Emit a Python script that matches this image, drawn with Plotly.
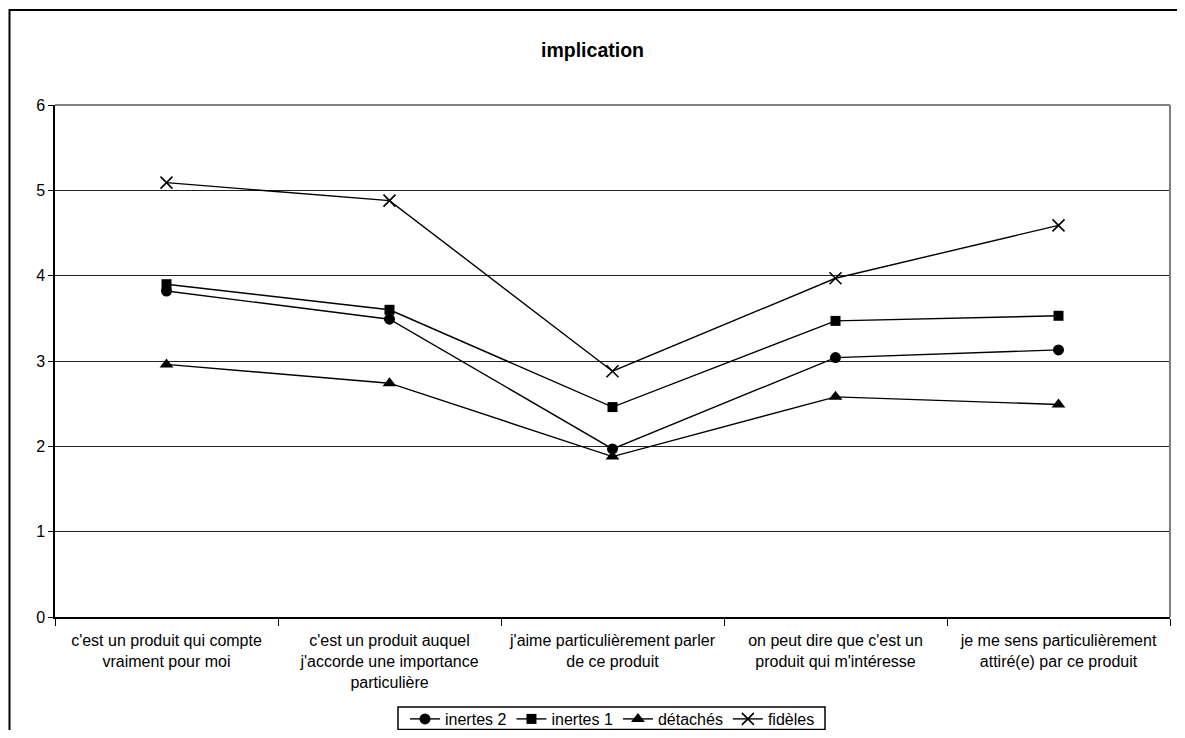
import plotly.graph_objects as go

categories = [
    "c'est un produit qui compte<br>vraiment pour moi",
    "c'est un produit auquel<br>j'accorde une importance<br>particulière",
    "j'aime particulièrement parler<br>de ce produit",
    "on peut dire que c'est un<br>produit qui m'intéresse",
    "je me sens particulièrement<br>attiré(e) par ce produit",
]
inertes2 = [3.82, 3.49, 1.97, 3.04, 3.13]
inertes1 = [3.90, 3.60, 2.46, 3.47, 3.53]
detaches = [2.96, 2.74, 1.88, 2.58, 2.49]
fideles = [5.09, 4.88, 2.88, 3.97, 4.59]
y_ticks = [0, 1, 2, 3, 4, 5, 6]

series = [
    ("inertes 2", inertes2, "circle", 11),
    ("inertes 1", inertes1, "square", 10),
    ("détachés", detaches, "triangle-up", 12),
    ("fidèles", fideles, "x-thin-open", 12),
]

fig = go.Figure()
for name, vals, sym, sz in series:
    marker = dict(symbol=sym, size=sz, color="black", line=dict(width=0))
    if sym == "x-thin-open":
        marker = dict(symbol=sym, size=sz, color="black", line=dict(width=1.6, color="black"))
    fig.add_trace(go.Scatter(
        x=categories, y=vals, name=name, mode="lines+markers",
        line=dict(color="black", width=1.4), marker=marker,
    ))

# page has an 8px body margin; figure sized so page == window
W, H = 1169, 722
L, R, T, B = 47, 7, 97, 113
pw, ph = W - L - R, H - T - B

def px(x):
    return (x - L) / pw

def py(y):
    return (H - B - y) / ph

fig.update_layout(
    width=W, height=H,
    margin=dict(l=L, r=R, t=T, b=B, autoexpand=False),
    paper_bgcolor="white", plot_bgcolor="white",
    font=dict(family="Liberation Sans, Arial, sans-serif", size=16, color="black"),
    title=dict(text="<b>implication</b>", x=0.5, xanchor="center", y=1 - 42 / H, yanchor="middle",
               font=dict(size=19.5, color="black")),
    showlegend=True,
    legend=dict(orientation="h", x=0.5, xanchor="center", y=py(711), yanchor="middle",
                borderwidth=0, bgcolor="rgba(0,0,0,0)", font=dict(size=16),
                tracegroupgap=0, itemsizing="trace"),
    xaxis=dict(type="category", range=[-0.5, 4.5], tickson="boundaries", ticks="outside",
               ticklen=7, tickcolor="black", showline=True, linecolor="black", linewidth=1.5,
               showgrid=False, zeroline=False, tickfont=dict(size=16), automargin=False,
               ticklabelstandoff=8),
    yaxis=dict(range=[0, 6], tickvals=y_ticks, ticks="outside", ticklen=5, tickcolor="black",
               showline=True, linecolor="black", linewidth=1.5, showgrid=True,
               gridcolor="#222222", gridwidth=1, zeroline=False, tickfont=dict(size=16),
               automargin=False),
    shapes=[
        dict(type="rect", xref="paper", yref="paper",
             x0=px(1.5), x1=px(W + 20), y0=py(H + 20), y1=py(2),
             line=dict(color="black", width=2), fillcolor="rgba(0,0,0,0)", layer="below"),
        dict(type="rect", xref="paper", yref="paper",
             x0=px(390), x1=px(817), y0=py(721.5), y1=py(699),
             line=dict(color="black", width=1.5), fillcolor="rgba(0,0,0,0)", layer="below"),
        dict(type="line", xref="paper", yref="paper", x0=0, x1=1, y0=1, y1=1,
             line=dict(color="#808080", width=2)),
        dict(type="line", xref="paper", yref="paper", x0=1, x1=1, y0=0, y1=1,
             line=dict(color="#808080", width=2)),
    ],
)

fig.write_html("out.html")
